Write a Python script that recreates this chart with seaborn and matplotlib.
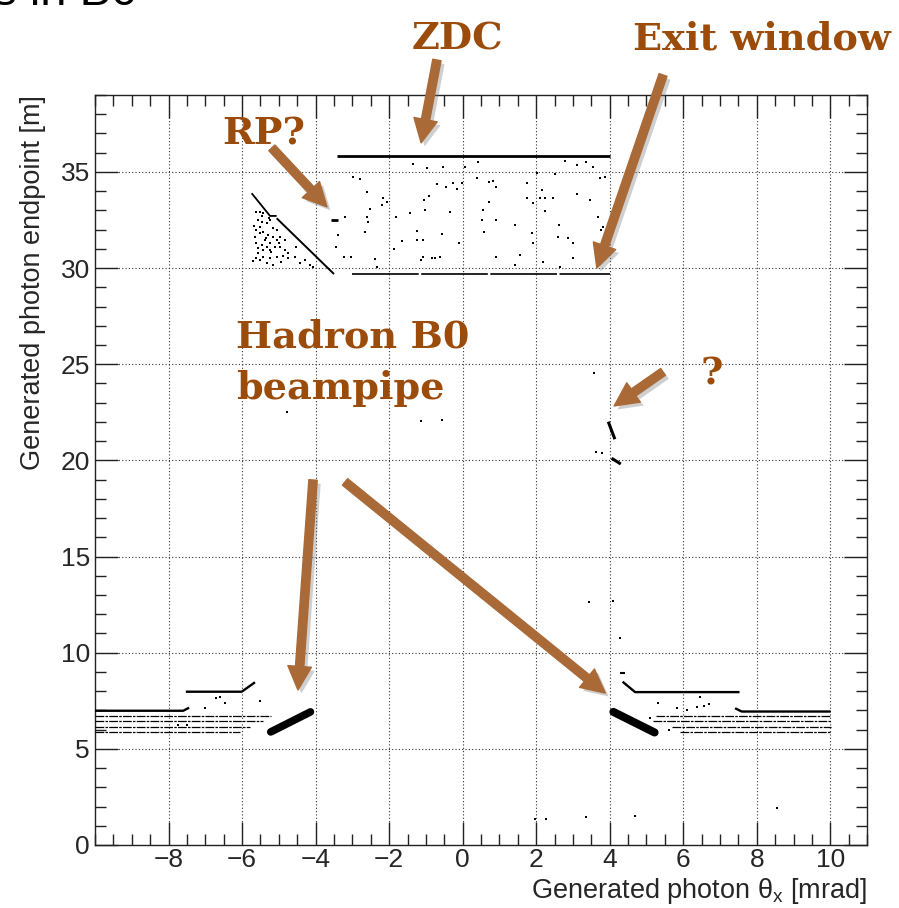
import matplotlib
matplotlib.use("Agg")
import matplotlib.pyplot as plt
import matplotlib.patheffects as pe
from matplotlib.ticker import FixedLocator, MultipleLocator
import seaborn as sns

# ---------------- axes ----------------
x_ticks = [-8, -6, -4, -2, 0, 2, 4, 6, 8, 10]
y_ticks = [0, 5, 10, 15, 20, 25, 30, 35]
x_range = [-10, 11]
y_range = [0, 39]

# ---------------- dense tracks: theta_x [mrad], endpoint [m] ----------------
zdc_x = [-3.43, 4.01]
zdc_y = [35.83, 35.83]
exit_x = [-3.02, 4.01]
exit_y = [29.69, 29.69]
rp_upper_x = [-5.74, -5.24, -5.06]
rp_upper_y = [33.89, 32.71, 32.71]
rp_lower_x = [-5.06, -3.50]
rp_lower_y = [32.59, 29.69]
rp_stub_x = [-3.57, -3.38]
rp_stub_y = [32.50, 32.50]

q_upper_x = [3.96, 4.14]
q_upper_y = [22.01, 21.10]
q_lower_x = [4.05, 4.30]
q_lower_y = [20.11, 19.81]

left_edge_x = [-10.0, -7.60, -7.44]
left_edge_y = [6.98, 6.98, 7.14]
left_step_x = [-7.53, -6.01, -5.65]
left_step_y = [7.97, 7.97, 8.46]
left_pipe_x = [-5.22, -4.14]
left_pipe_y = [5.88, 6.92]

right_stub_x = [4.28, 4.42]
right_stub_y = [8.93, 8.93]
right_step_x = [4.35, 4.69, 7.53]
right_step_y = [8.49, 7.95, 7.95]
right_edge_x = [7.41, 7.59, 10.01]
right_edge_y = [7.11, 6.94, 6.94]
right_pipe_x = [4.10, 5.22]
right_pipe_y = [6.92, 5.85]

# faint bands below the pipe entrance (y level, x start, x end)
band_left_y = [6.71, 6.43, 6.12, 5.90]
band_left_x0 = [-10.0, -10.0, -10.0, -10.0]
band_left_x1 = [-5.20, -5.43, -5.79, -6.06]
band_right_y = [6.72, 6.43, 6.14, 5.88]
band_right_x0 = [5.26, 5.19, 5.69, 5.91]
band_right_x1 = [10.01, 10.01, 10.01, 10.01]

# ---------------- isolated hits ----------------
sparse_x = [
    -2.97, -2.79, -2.61, -2.16, -2.07, -2.20, -2.52, -3.20, -2.61, -2.57,
    -3.38, -3.45, -3.23, -3.05, -2.66, -2.39, -2.34, -1.82, -1.87, -1.64,
    -1.43, -1.25, -1.25, -1.09, -1.09, -1.12, -0.84, -0.75, -0.62, -0.92,
    -1.05, -1.03, -0.69, -0.46, -0.27, -0.16, -0.01, -0.57, -0.35, -0.09,
    0.40, 0.72, 0.83, 0.91, 0.71, 0.56, 0.53, 0.92, 0.58, 0.92,
    1.43, 1.56, 1.42, 1.74, 1.76, 1.90, 1.88, 1.92, 2.15, 2.10,
    2.24, 2.45, 2.24, 2.63, 2.60, 2.87, 3.01, 3.12, 3.46, 3.73,
    3.69, 3.76, 3.82, 3.01, 2.65, 2.19, 2.01, 2.51, 3.87, -1.36,
    0.43, 2.78, 3.10, 3.35, 3.55, -0.98, -0.53, 0.06,
    -5.61, -5.52, -5.42, -5.56, -5.47, -5.33, -5.61, -5.52, -5.42, -5.29,
    -5.15, -5.38, -5.61, -5.47, -5.33, -5.24, -5.06, -4.97, -4.84, -4.74,
    -5.56, -5.42, -5.24, -5.06, -4.93, -5.33, -5.15, -4.74, -4.56, -4.43,
    -4.29, -4.14, -4.06, -5.61, -5.42, -5.15, -4.97, -5.06, -5.52, -5.24,
    -5.65, -4.84, -4.52, -5.24, -5.11, -5.68, -5.58, -5.50, -5.36, -5.20,
    -5.70, -5.45, -5.28, -5.00, -4.88,
    -6.70, -6.47, -5.52, -7.01, -7.74, -7.51, -6.60,
    5.32, 5.82, 6.09, 6.37, 6.57, 6.70, 6.46, 5.10, 5.60, 5.31,
    3.44, 4.10, 4.28, 1.97, 2.27, 3.35, 4.68, 8.56, 3.56, 3.63,
    3.78, -4.77, -1.12, -0.55,
]
sparse_y = [
    34.72, 34.62, 33.97, 33.63, 33.45, 33.28, 33.06, 32.64, 32.64, 32.41,
    31.72, 31.11, 30.56, 30.56, 31.89, 30.46, 30.04, 32.64, 31.01, 31.43,
    32.85, 31.95, 31.46, 31.46, 30.59, 30.42, 30.51, 30.51, 30.56, 33.75,
    33.54, 33.02, 34.37, 34.23, 34.44, 34.10, 34.44, 31.77, 32.93, 31.32,
    34.67, 34.49, 34.55, 34.23, 33.45, 33.02, 32.50, 32.50, 31.89, 30.59,
    32.24, 30.68, 30.16, 34.44, 33.63, 33.40, 31.81, 31.29, 34.06, 33.63,
    33.63, 33.63, 32.99, 32.22, 31.63, 31.55, 31.29, 33.85, 33.54, 34.70,
    32.64, 31.98, 32.15, 30.51, 30.07, 30.33, 34.93, 34.87, 34.72, 35.41,
    35.53, 35.59, 35.36, 35.53, 35.27, 35.19, 35.27, 35.27,
    32.93, 32.93, 32.85, 32.50, 32.41, 32.33, 31.98, 31.81, 31.89, 31.72,
    31.63, 31.46, 31.29, 31.20, 31.11, 30.94, 31.46, 31.11, 30.94, 30.77,
    30.77, 30.59, 30.51, 30.59, 30.33, 30.25, 30.16, 30.51, 30.59, 30.25,
    30.42, 30.16, 30.07, 30.51, 30.94, 32.07, 31.63, 31.98, 32.15, 32.50,
    31.63, 31.46, 31.11, 31.29, 31.11, 32.20, 31.05, 30.40, 31.55, 30.85,
    30.35, 32.70, 32.60, 31.30, 30.62,
    7.63, 7.37, 7.51, 7.11, 6.24, 6.24, 7.71,
    7.37, 7.11, 7.02, 7.19, 7.23, 7.31, 7.71, 6.59, 5.98, 7.37,
    12.64, 12.71, 10.75, 1.34, 1.34, 1.46, 1.51, 1.93, 24.53, 20.45,
    20.40, 22.53, 22.05, 22.10,
]

# ---------------- call-outs ----------------
callout_text = ["ZDC", "Exit window", "RP?", "?", "Hadron B0\nbeampipe"]
callout_pos = [(-0.15, 41.34), (8.14, 41.34), (-6.54, 36.40), (6.46, 23.97), (-6.16, 23.19)]
callout_ha = ["center", "center", "left", "left", "left"]
arrow_tail = [(-0.70, 40.82), (5.45, 40.04), (-5.19, 36.25), (5.45, 24.60), (-4.07, 18.98), (-3.20, 18.88)]
arrow_tip = [(-1.13, 36.51), (3.65, 30.00), (-3.69, 33.18), (4.12, 22.83), (-4.48, 8.06), (3.88, 7.90)]

# ---------------- style ----------------
sns.set_theme(style="ticks")
plt.rcParams["font.family"] = ["Liberation Sans", "DejaVu Sans"]
plt.rcParams["axes.linewidth"] = 1.0
plt.rcParams["mathtext.fontset"] = "custom"
plt.rcParams["mathtext.rm"] = "Liberation Sans"

TXT_BROWN = "#9b4b0a"
ARROW_BROWN = "#aa6a38"

fig = plt.figure(figsize=(8.99, 9.08), dpi=100)
ax = fig.add_axes([0.1057, 0.0694, 0.8588, 0.826])

# grid
ax.set_axisbelow(True)
for xv in x_ticks:
    ax.axvline(xv, color="#333333", lw=0.8, ls=(0, (1, 2)), zorder=0)
for yv in y_ticks[1:]:
    ax.axhline(yv, color="#333333", lw=0.8, ls=(0, (1, 2)), zorder=0)

# dense tracks
def track(xs, ys, lw, ls="-"):
    ax.plot(xs, ys, color="black", lw=lw, ls=ls, solid_capstyle="butt", zorder=3)

track(zdc_x, zdc_y, 2.0)
track(exit_x, exit_y, 1.2, (0, (40, 1.5)))
track(rp_upper_x, rp_upper_y, 1.3)
track(rp_lower_x, rp_lower_y, 1.4)
track(rp_stub_x, rp_stub_y, 2.0)
track(q_upper_x, q_upper_y, 2.2)
track(q_lower_x, q_lower_y, 2.2)
track(left_edge_x, left_edge_y, 1.7)
track(left_step_x, left_step_y, 1.7)
track(right_stub_x, right_stub_y, 1.5)
track(right_step_x, right_step_y, 1.7)
track(right_edge_x, right_edge_y, 1.7)
ax.plot(left_pipe_x, left_pipe_y, color="black", lw=5.5, solid_capstyle="round", zorder=3)
ax.plot(right_pipe_x, right_pipe_y, color="black", lw=5.8, solid_capstyle="round", zorder=3)
for yv, a, b in zip(band_left_y, band_left_x0, band_left_x1):
    track([a, b], [yv, yv], 0.9, (0, (7, 1, 2, 1)))
for yv, a, b in zip(band_right_y, band_right_x0, band_right_x1):
    track([a, b], [yv, yv], 0.9, (0, (7, 1, 2, 1)))

sns.scatterplot(x=sparse_x, y=sparse_y, ax=ax, color="black", marker="s",
                s=2, linewidth=0, zorder=4, legend=False)

# axes & ticks
ax.set_xlim(*x_range)
ax.set_ylim(*y_range)
ax.xaxis.set_major_locator(FixedLocator(x_ticks))
ax.yaxis.set_major_locator(FixedLocator(y_ticks))
ax.xaxis.set_minor_locator(MultipleLocator(0.5))
ax.yaxis.set_minor_locator(MultipleLocator(1))
ax.tick_params(which="both", direction="in", top=True, right=True,
               color="#222222", width=1.0)
ax.tick_params(which="major", length=16.5)
ax.tick_params(which="minor", length=8)
ax.tick_params(axis="x", which="major", labelsize=19, pad=2.5)
ax.tick_params(axis="y", which="major", labelsize=19, pad=3.6)
for s in ax.spines.values():
    s.set_color("#222222")
    s.set_visible(True)

ax.set_xlabel("Generated photon θ$_{\\mathregular{x}}$ [mrad]", fontsize=19.5, loc="right")
ax.set_ylabel("Generated photon endpoint [m]", fontsize=19.5, loc="top")
ax.xaxis.set_label_coords(1.0, -0.041)
ax.yaxis.set_label_coords(-0.064, 1.0)

# page heading running off the top
fig.text(0.1524, 1 - 5 / 908, "Photon endpoints in B0", ha="right", va="baseline",
         fontsize=34, color="black")

# call-outs
shadow = [pe.SimplePatchShadow(offset=(2.5, -2.5), shadow_rgbFace="#777777", alpha=0.35), pe.Normal()]
for tail, tip in zip(arrow_tail, arrow_tip):
    ax.annotate("", xy=tip, xytext=tail, xycoords="data", textcoords="data",
                annotation_clip=False,
                arrowprops=dict(arrowstyle="simple,head_length=0.85,head_width=0.85,tail_width=0.3",
                                mutation_scale=20, color=ARROW_BROWN, shrinkA=0, shrinkB=0,
                                path_effects=shadow, clip_on=False),
                zorder=6)
for txt, (px, py), ha in zip(callout_text, callout_pos, callout_ha):
    ax.text(px, py, txt, ha=ha, va="baseline", fontsize=27.5, fontweight="bold",
            family="DejaVu Serif", color=TXT_BROWN,
            linespacing=1.5, clip_on=False, zorder=7)

fig.savefig("out.png", dpi=100)
